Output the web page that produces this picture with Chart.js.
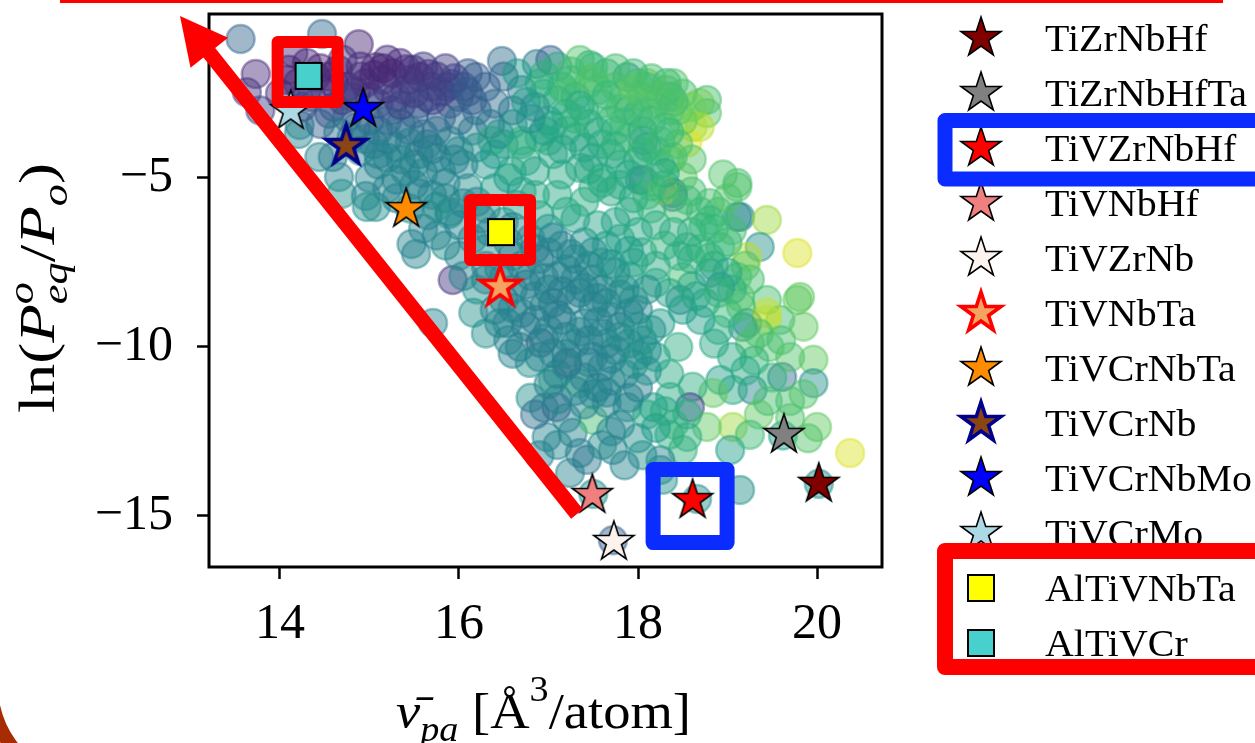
<!DOCTYPE html>
<html>
<head>
<meta charset="utf-8">
<script src="https://cdn.jsdelivr.net/npm/chart.js@4.4.1/dist/chart.umd.min.js"></script>
<style>
  html, body { margin: 0; padding: 0; background: #ffffff; overflow: hidden; }
  #wrap { width: 1255px; height: 743px; position: relative; }
</style>
</head>
<body>
<div id="wrap"><canvas id="c" width="1255" height="743"></canvas></div>
<script>
// ---------------- data ----------------
const xTicks = [14, 16, 18, 20];
const yTicks = [-5, -10, -15];

// named alloys (volume per atom, ln of equilibrium pressure)
const alloyNames = ['TiZrNbHf', 'TiZrNbHfTa', 'TiVZrNbHf', 'TiVNbHf', 'TiVZrNb', 'TiVNbTa',
                    'TiVCrNbTa', 'TiVCrNb', 'TiVCrNbMo', 'TiVCrMo', 'AlTiVNbTa', 'AlTiVCr'];
const alloyVol = [20.02, 19.63, 18.61, 17.49, 17.73, 16.46, 15.41, 14.74, 14.93, 14.12, 16.47, 14.32];
const alloyLnP = [-14.05, -12.60, -14.53, -14.38, -15.77, -8.22, -5.92, -4.05, -2.96, -3.02, -6.60, -1.98];
const alloyShape = ['star', 'star', 'star', 'star', 'star', 'star', 'star', 'star', 'star', 'star', 'square', 'square'];
const alloyFill = ['#800000', '#808080', '#ff0000', '#f08080', '#fdf3ee', '#f4a460', '#ff8c00', '#8b4513',
                   '#0000ff', '#add8e6', '#ffff00', '#48d1cc'];
const alloyEdge = ['#000', '#000', '#000', '#000', '#000', '#ff0000', '#000', '#00008b', '#000', '#000', '#000', '#000'];
const alloyEdgeWidth = [1.6, 1.6, 1.6, 1.6, 1.6, 3.6, 1.6, 3.6, 1.6, 1.6, 2, 2];

// candidate compositions: volume, ln pressure, colour value
const candVol = [
  13.56, 14.47, 13.73, 13.63, 14.08, 13.78, 14.22, 14.21, 14.44, 14.59, 14.66, 14.69, 14.96, 14.97, 15.07, 15.47, 15.52,
  14.88, 15.34, 15.07, 15.41, 15.49, 15.66, 15.92, 15.87, 15.56, 16.19, 16.48, 16.87, 17.02, 17.35, 17.46, 17.50,
  17.88, 18.10, 18.32, 18.10, 18.36, 18.32, 18.69, 18.77, 18.77, 18.69, 18.61, 18.55, 18.06, 18.39, 18.36, 18.10,
  18.02, 18.06, 18.50, 18.39, 18.39, 18.28, 19.11, 19.11, 18.80, 19.11, 19.14, 19.44, 18.73, 18.92, 19.36, 19.22,
  19.78, 19.11, 19.14, 18.80, 18.92, 18.50, 18.47, 19.44, 19.59, 19.78, 19.44, 19.22, 19.81, 19.44, 19.17, 19.47,
  19.96, 19.96, 19.61, 19.28, 19.06, 18.92, 18.84, 18.61, 18.58, 18.36, 18.17, 19.06, 18.77, 18.55, 18.50, 19.03,
  20.00, 20.37, 19.14, 18.25, 18.66, 17.72, 17.35, 17.09, 16.98, 17.27, 17.50, 17.24, 17.43, 17.88, 17.65, 17.35,
  17.05, 16.91, 17.21, 16.68, 17.05, 16.79, 16.54, 16.16, 15.71, 17.72, 17.50, 20.02, 19.62, 18.28, 15.93, 18.25,
  14.00, 14.20, 14.35, 14.55, 14.60, 14.75, 14.90, 15.00, 15.15, 15.25, 15.40, 15.55, 15.70, 15.80, 16.00, 16.10,
  16.20, 14.45, 14.85, 15.10, 15.35, 15.60, 14.30, 14.15, 14.70, 15.20, 15.60, 16.30, 16.50, 16.40, 16.70,
  14.90, 15.10, 15.30, 15.50, 15.65, 15.80, 16.00, 16.15, 16.30, 16.50, 16.60, 16.75, 16.90, 17.05, 17.20, 17.35,
  15.20, 15.70, 15.90, 16.10, 16.30, 16.70, 16.90, 17.10, 17.30, 17.50, 15.60, 15.85, 16.15, 16.80, 17.00, 17.40,
  15.00, 15.45, 16.55,
  16.90, 17.10, 17.25, 17.40, 17.55, 17.70, 17.85, 18.00, 18.20, 18.30, 18.45, 17.00, 17.30, 17.60, 17.90, 18.20,
  17.80, 17.50, 18.00, 17.65, 17.10, 18.50,
  17.70, 17.90, 18.10, 18.20, 18.45, 18.60, 17.80, 18.05, 18.30, 18.60, 17.60, 17.90, 18.20, 18.90, 19.00, 18.75,
  18.50, 18.90, 19.25,
  16.30, 16.60, 16.80, 17.00, 17.20, 17.35, 17.50, 17.65, 17.85, 18.00, 16.50, 16.70, 16.95, 17.15, 17.40, 17.60,
  17.80, 18.05, 18.25, 16.30, 16.55, 17.30, 17.50, 17.75, 17.95, 18.20, 18.45, 17.10, 17.40, 17.70, 18.00, 18.35,
  16.20, 16.05, 16.40,
  16.80, 17.20, 17.50, 17.80, 18.10, 18.35, 16.90, 17.60, 18.05, 18.40, 16.85,
  19.25, 19.60, 19.85, 19.30, 19.05, 19.70, 19.35, 19.90,
  16.60, 16.85, 16.35, 16.37, 16.70, 16.59, 15.89,
  14.10, 14.40, 14.50, 14.65, 14.80, 14.95, 15.10, 15.25, 15.30, 15.45, 15.50, 15.65, 15.75, 15.90, 16.05, 14.25,
  14.55, 14.75, 15.00, 15.20, 15.45, 15.75, 16.00, 16.15, 14.90,
  14.80, 15.05, 15.20, 15.40, 15.55, 15.75, 15.90, 16.05, 16.20, 16.40, 16.45, 16.70, 16.85, 17.00, 17.15, 15.30,
  15.50, 15.65, 15.85, 16.00, 16.20, 16.40, 16.50, 16.65, 16.85, 17.00, 17.20, 17.40, 17.55, 15.75, 16.00, 16.30,
  16.55, 17.15, 17.30,
  16.95, 17.15, 17.30, 17.45, 17.60, 17.75, 17.90, 18.05, 18.15, 18.35, 18.50, 18.60, 17.20, 17.45, 17.75, 18.05,
  18.25, 17.40, 17.70, 18.00, 18.25, 17.95, 17.25, 16.95, 18.45,
  17.60, 17.80, 17.95, 18.15, 18.30, 18.60, 18.70, 18.40, 18.85, 17.75, 18.00, 17.65, 17.95, 18.20, 18.45, 18.70,
  18.35, 18.60, 18.85, 19.05, 18.70, 19.00, 19.20, 19.00, 18.95,
  16.45, 16.70, 16.90, 17.10, 17.30, 17.45, 17.60, 17.75, 17.95, 18.10, 16.60, 16.85, 17.05, 17.25, 17.50, 17.70,
  17.90, 18.15, 16.45, 16.75, 17.00, 17.20, 17.45, 17.65, 17.90, 18.10, 16.90, 17.20, 17.60, 17.85, 18.10, 17.30,
  17.55, 17.90, 16.30,
  17.00, 17.40, 17.70, 18.00, 18.20, 17.10, 18.30, 18.55, 17.85, 16.95,
  19.35, 19.70, 19.50, 19.20, 19.85, 19.45, 19.70, 19.25,
  16.95, 17.20, 17.35, 17.50, 17.65, 17.80, 17.95, 18.15, 18.25, 18.40, 17.05, 17.30, 17.55, 17.85, 18.10, 18.35,
  17.15, 17.45, 17.75, 18.05, 18.30, 17.60, 17.90, 18.15, 18.60, 16.75, 16.80, 16.65, 17.75, 18.40,
  16.35, 16.60, 16.85, 17.05, 17.25, 17.50, 17.70, 17.90, 16.50, 16.75, 16.95, 17.15, 17.40, 17.55, 17.80, 16.60,
  16.85, 17.10, 17.35, 17.55, 17.80, 18.00, 16.60, 16.95, 17.20, 17.45, 17.70, 18.00, 17.10, 17.65,
  14.45, 14.60, 14.85, 15.05, 15.20, 15.35, 15.50, 15.70, 15.80, 15.95, 16.10, 15.15, 14.30, 14.70, 15.85,
  14.65, 14.95, 15.20, 15.45, 15.70, 15.95, 15.10, 15.35, 15.60, 15.85, 15.30, 15.55, 15.75, 16.05, 16.25,
  18.55, 18.80, 19.05, 18.55, 18.80, 19.00, 18.65, 18.90, 19.15, 18.85
];
const candLnP = [
  -0.89, -0.74, -1.92, -2.46, -2.10, -3.00, -3.43, -3.70, -4.38, -4.38, -4.97, -5.47, -5.53, -5.86, -5.86, -6.95, -7.25,
  -1.04, -1.60, -1.72, -1.78, -1.80, -1.92, -2.22, -2.31, -2.01, -2.01, -1.54, -1.63, -1.51, -1.51, -1.66, -1.72,
  -2.01, -2.19, -2.19, -2.31, -2.60, -2.40, -2.78, -2.69, -3.08, -3.49, -3.49, -3.96, -3.88, -4.38, -4.47, -4.08,
  -5.06, -5.06, -4.97, -5.44, -5.56, -5.36, -5.15, -5.27, -5.74, -6.15, -6.15, -6.24, -6.45, -7.04, -7.04, -7.34,
  -7.22, -7.93, -8.52, -7.81, -8.22, -7.93, -8.61, -8.61, -9.20, -8.61, -9.20, -9.29, -8.52, -8.99, -9.41, -10.00,
  -10.38, -11.07, -10.89, -11.27, -11.27, -10.98, -11.36, -11.18, -11.78, -11.48, -11.78, -12.37, -12.37, -12.66, -13.05, -13.05,
  -12.37, -13.14, -14.23, -13.64, -14.50, -13.05, -13.14, -11.78, -12.66, -12.54, -12.16, -13.73, -13.34, -11.78, -11.66, -11.07,
  -10.98, -9.88, -10.47, -10.00, -10.18, -10.47, -9.29, -8.99, -9.29, -15.72, -14.35, -14.05, -12.62, -13.93, -8.02, -13.35,
  -2.50, -2.20, -2.60, -2.00, -2.90, -2.30, -1.70, -2.60, -2.10, -3.00, -2.40, -2.80, -2.30, -3.20, -2.60, -1.90,
  -3.00, -3.40, -3.50, -3.60, -3.40, -3.70, -1.60, -1.30, -1.50, -1.50, -1.70, -2.30, -2.00, -2.80, -2.40,
  -4.20, -4.60, -4.10, -4.60, -4.00, -4.80, -4.20, -3.60, -4.60, -4.00, -3.40, -4.50, -3.80, -4.30, -3.60, -4.70,
  -5.30, -5.50, -6.00, -5.30, -5.90, -5.40, -6.10, -5.50, -6.20, -5.30, -6.50, -7.00, -6.80, -6.80, -7.20, -6.90,
  -5.00, -5.90, -5.00,
  -2.20, -2.70, -2.10, -3.00, -2.40, -3.30, -2.60, -3.10, -2.80, -3.50, -3.00, -3.30, -3.80, -4.00, -3.80, -4.20,
  -4.60, -4.40, -2.20, -1.90, -1.70, -2.50,
  -5.40, -6.00, -5.50, -6.40, -5.90, -6.60, -6.80, -7.20, -7.00, -7.40, -7.50, -7.90, -8.10, -6.00, -6.90, -8.70,
  -8.90, -9.50, -8.00,
  -7.60, -7.30, -7.90, -8.30, -7.70, -8.40, -8.00, -8.70, -8.30, -8.90, -8.60, -9.00, -8.80, -9.20, -9.30, -9.60,
  -9.40, -9.80, -9.30, -9.60, -9.80, -9.90, -10.30, -10.10, -10.50, -10.30, -10.00, -10.80, -10.90, -11.00, -11.20, -10.80,
  -8.30, -7.90, -8.90,
  -11.50, -12.10, -11.40, -12.30, -12.00, -12.60, -13.20, -12.90, -13.20, -12.30, -12.00,
  -9.90, -9.80, -9.40, -10.40, -10.30, -11.60, -12.00, -12.70,
  -3.00, -2.90, -3.40, -3.90, -3.90, -4.80, -6.07,
  -1.80, -2.00, -2.40, -1.80, -2.60, -2.20, -2.80, -1.90, -2.60, -2.10, -3.10, -2.60, -2.00, -2.80, -2.30, -2.90,
  -3.10, -3.20, -3.30, -3.30, -3.60, -3.60, -3.30, -2.70, -2.00,
  -3.80, -4.00, -4.40, -4.80, -4.30, -4.40, -3.90, -4.60, -4.10, -4.30, -3.70, -4.00, -4.80, -3.90, -4.90, -5.60,
  -5.20, -6.10, -5.60, -6.40, -5.70, -5.30, -6.30, -5.80, -5.50, -6.50, -6.00, -5.70, -6.40, -6.70, -7.30, -7.10,
  -6.90, -7.00, -7.40,
  -2.50, -2.30, -2.60, -2.20, -2.80, -2.30, -3.00, -2.60, -3.30, -3.00, -3.30, -2.90, -3.10, -3.40, -3.60, -3.60,
  -3.90, -4.10, -4.30, -4.50, -4.60, -1.90, -1.85, -3.60, -4.00,
  -5.00, -5.20, -5.60, -5.90, -5.20, -5.40, -6.00, -6.60, -6.50, -6.30, -6.60, -7.00, -7.50, -7.60, -7.30, -7.10,
  -8.40, -8.20, -7.60, -8.30, -9.20, -9.00, -7.60, -5.60, -4.90,
  -7.70, -7.60, -7.40, -7.90, -8.00, -7.60, -8.30, -7.80, -8.60, -8.30, -8.30, -8.50, -8.70, -8.60, -8.80, -9.10,
  -9.00, -9.50, -9.30, -9.40, -9.50, -9.70, -9.80, -9.90, -9.90, -10.10, -10.30, -10.20, -10.60, -10.80, -10.70, -11.30,
  -11.20, -11.50, -8.00,
  -11.10, -11.70, -12.50, -12.70, -12.40, -12.90, -11.90, -12.00, -13.50, -11.80,
  -9.60, -10.30, -10.90, -10.70, -11.40, -11.60, -12.10, -12.60,
  -1.95, -2.45, -2.85, -2.05, -2.55, -2.95, -2.35, -2.05, -2.55, -2.75, -3.45, -3.25, -3.65, -3.35, -3.05, -3.65,
  -4.15, -4.75, -4.05, -4.25, -4.85, -5.15, -4.90, -5.25, -4.45, -2.75, -3.25, -1.90, -1.75, -2.20,
  -6.60, -6.45, -7.10, -6.75, -7.25, -7.20, -7.55, -7.15, -7.95, -8.15, -7.95, -8.35, -8.25, -8.55, -8.45, -8.85,
  -9.20, -9.05, -9.55, -9.25, -9.70, -9.40, -10.20, -9.75, -10.55, -10.45, -10.35, -10.25, -11.55, -11.35,
  -1.75, -2.20, -2.45, -1.95, -2.35, -2.85, -2.50, -2.70, -2.45, -2.05, -2.45, -1.75, -2.40, -2.70, -1.75,
  -3.65, -3.85, -3.85, -3.95, -4.15, -4.45, -4.30, -4.45, -4.85, -5.15, -5.05, -5.45, -5.85, -5.75, -6.20,
  -5.65, -6.25, -6.55, -7.05, -7.35, -7.80, -8.50, -8.40, -8.80, -9.90
];
const candColorVal = [
  0.32, 0.33, 0.12, 0.15, 0.10, 0.20, 0.45, 0.45, 0.45, 0.40, 0.45, 0.50, 0.45, 0.50, 0.48, 0.45, 0.45,
  0.10, 0.12, 0.10, 0.15, 0.12, 0.12, 0.20, 0.18, 0.10, 0.30, 0.35, 0.40, 0.30, 0.72, 0.65, 0.68,
  0.45, 0.80, 0.65, 0.68, 0.50, 0.70, 0.85, 0.70, 0.72, 0.90, 0.88, 0.95, 0.45, 0.70, 0.72, 0.50,
  0.45, 0.38, 0.75, 0.38, 0.35, 0.90, 0.70, 0.72, 0.70, 0.50, 0.45, 0.85, 0.65, 0.68, 0.50, 0.90,
  0.95, 0.70, 0.75, 0.50, 0.45, 0.70, 0.45, 0.70, 0.68, 0.75, 0.90, 0.50, 0.75, 0.92, 0.50, 0.72,
  0.75, 0.50, 0.35, 0.45, 0.60, 0.55, 0.75, 0.62, 0.20, 0.60, 0.55, 0.85, 0.75, 0.62, 0.65, 0.55,
  0.75, 0.95, 0.50, 0.45, 0.50, 0.45, 0.40, 0.25, 0.45, 0.45, 0.70, 0.45, 0.40, 0.50, 0.45, 0.65,
  0.62, 0.20, 0.15, 0.40, 0.45, 0.50, 0.45, 0.50, 0.45, 0.30, 0.50, 0.50, 0.55, 0.50, 0.15, 0.45,
  0.15, 0.12, 0.20, 0.10, 0.22, 0.15, 0.12, 0.25, 0.18, 0.28, 0.20, 0.25, 0.22, 0.30, 0.25, 0.28,
  0.30, 0.30, 0.32, 0.30, 0.35, 0.38, 0.10, 0.12, 0.15, 0.12, 0.18, 0.30, 0.32, 0.35, 0.40,
  0.45, 0.42, 0.45, 0.48, 0.42, 0.45, 0.50, 0.45, 0.52, 0.58, 0.55, 0.60, 0.62, 0.58, 0.65, 0.60,
  0.45, 0.45, 0.42, 0.50, 0.50, 0.55, 0.58, 0.60, 0.55, 0.62, 0.45, 0.50, 0.45, 0.48, 0.45, 0.50,
  0.45, 0.48, 0.55,
  0.60, 0.62, 0.68, 0.60, 0.70, 0.65, 0.72, 0.60, 0.75, 0.68, 0.72, 0.55, 0.60, 0.62, 0.70, 0.65,
  0.60, 0.58, 0.70, 0.65, 0.62, 0.70,
  0.60, 0.62, 0.68, 0.60, 0.70, 0.65, 0.58, 0.60, 0.65, 0.62, 0.55, 0.58, 0.62, 0.70, 0.66, 0.60,
  0.55, 0.62, 0.70,
  0.45, 0.42, 0.45, 0.40, 0.45, 0.42, 0.48, 0.45, 0.50, 0.45, 0.45, 0.42, 0.45, 0.42, 0.45, 0.48,
  0.45, 0.50, 0.55, 0.50, 0.45, 0.45, 0.42, 0.45, 0.50, 0.55, 0.62, 0.45, 0.40, 0.45, 0.42, 0.60,
  0.50, 0.45, 0.45,
  0.50, 0.45, 0.50, 0.45, 0.60, 0.62, 0.45, 0.48, 0.50, 0.65, 0.35,
  0.72, 0.70, 0.75, 0.65, 0.60, 0.70, 0.75, 0.72,
  0.40, 0.45, 0.38, 0.62, 0.65, 0.60, 0.55,
  0.10, 0.12, 0.15, 0.10, 0.20, 0.12, 0.22, 0.10, 0.20, 0.15, 0.30, 0.22, 0.15, 0.25, 0.28, 0.25,
  0.28, 0.30, 0.30, 0.32, 0.35, 0.35, 0.35, 0.30, 0.15,
  0.40, 0.42, 0.45, 0.45, 0.42, 0.45, 0.42, 0.45, 0.48, 0.55, 0.50, 0.60, 0.58, 0.62, 0.60, 0.45,
  0.45, 0.45, 0.48, 0.45, 0.45, 0.55, 0.50, 0.55, 0.60, 0.52, 0.60, 0.62, 0.58, 0.45, 0.45, 0.48,
  0.45, 0.45, 0.48,
  0.62, 0.65, 0.62, 0.70, 0.68, 0.72, 0.65, 0.70, 0.66, 0.70, 0.75, 0.78, 0.60, 0.62, 0.66, 0.62,
  0.70, 0.58, 0.62, 0.60, 0.68, 0.68, 0.70, 0.55, 0.72,
  0.60, 0.62, 0.60, 0.65, 0.66, 0.70, 0.68, 0.62, 0.66, 0.58, 0.60, 0.55, 0.58, 0.60, 0.62, 0.66,
  0.58, 0.60, 0.60, 0.62, 0.55, 0.66, 0.72, 0.72, 0.72,
  0.45, 0.45, 0.42, 0.45, 0.45, 0.45, 0.45, 0.50, 0.48, 0.50, 0.45, 0.45, 0.42, 0.45, 0.45, 0.45,
  0.45, 0.50, 0.45, 0.42, 0.45, 0.45, 0.42, 0.45, 0.48, 0.50, 0.45, 0.45, 0.45, 0.48, 0.50, 0.45,
  0.42, 0.45, 0.45,
  0.45, 0.45, 0.45, 0.50, 0.55, 0.45, 0.60, 0.62, 0.45, 0.40,
  0.70, 0.72, 0.65, 0.60, 0.72, 0.70, 0.72, 0.68,
  0.65, 0.70, 0.62, 0.72, 0.66, 0.70, 0.74, 0.70, 0.72, 0.70, 0.60, 0.65, 0.62, 0.68, 0.70, 0.66,
  0.58, 0.60, 0.64, 0.66, 0.60, 0.62, 0.60, 0.66, 0.72, 0.55, 0.50, 0.55, 0.70, 0.72,
  0.45, 0.45, 0.42, 0.45, 0.45, 0.48, 0.50, 0.55, 0.45, 0.42, 0.45, 0.42, 0.45, 0.45, 0.48, 0.45,
  0.42, 0.42, 0.45, 0.45, 0.48, 0.50, 0.45, 0.45, 0.45, 0.45, 0.45, 0.50, 0.45, 0.45,
  0.10, 0.12, 0.15, 0.10, 0.15, 0.20, 0.18, 0.20, 0.20, 0.22, 0.28, 0.10, 0.15, 0.20, 0.18,
  0.40, 0.40, 0.40, 0.42, 0.42, 0.45, 0.45, 0.45, 0.45, 0.45, 0.45, 0.45, 0.48, 0.45, 0.45,
  0.68, 0.66, 0.70, 0.62, 0.65, 0.60, 0.58, 0.65, 0.70, 0.60
];

// ---------------- styling helpers ----------------
const SERIF = '"Liberation Serif", "DejaVu Serif", "Times New Roman", serif';
const viridisStops = [[68, 1, 84], [72, 40, 120], [62, 73, 137], [49, 104, 142], [38, 130, 142],
                      [31, 158, 137], [53, 183, 121], [110, 206, 88], [181, 222, 43], [253, 231, 37]];
function viridis(t) {
  t = Math.max(0, Math.min(1, t));
  const p = t * (viridisStops.length - 1);
  const i = Math.min(Math.floor(p), viridisStops.length - 2);
  const f = p - i;
  const a = viridisStops[i], b = viridisStops[i + 1];
  return a.map((v, k) => Math.round(v + (b[k] - v) * f));
}
function rgba(c, a) { return 'rgba(' + c[0] + ',' + c[1] + ',' + c[2] + ',' + a + ')'; }

// marker sprites: 5-point star or square with an outline
function markerSprite(shape, fill, edge, lw) {
  const size = shape === 'star' ? 21 : 13;
  const pad = Math.ceil(lw) + 2;
  const s = Math.ceil(size * 2 + pad * 2);
  const cv = document.createElement('canvas');
  cv.width = s; cv.height = s;
  const g = cv.getContext('2d');
  g.translate(s / 2, s / 2);
  g.beginPath();
  if (shape === 'star') {
    const R = size, r = size * 0.382;
    for (let k = 0; k < 10; k++) {
      const a = -Math.PI / 2 + k * Math.PI / 5;
      const rr = (k % 2) ? r : R;
      g.lineTo(rr * Math.cos(a), rr * Math.sin(a));
    }
    g.closePath();
  } else {
    g.rect(-size, -size, size * 2, size * 2);
  }
  g.fillStyle = fill; g.fill();
  g.lineJoin = 'miter'; g.lineWidth = lw; g.strokeStyle = edge; g.stroke();
  return cv;
}
const alloySprites = alloyNames.map((n, i) => markerSprite(alloyShape[i], alloyFill[i], alloyEdge[i], alloyEdgeWidth[i]));

// rich text: segments with italic / size scale / baseline shift; stacked scripts share x
function segFont(seg, base) {
  return (seg.it ? 'italic ' : '') + Math.round(base * (seg.s || 1)) + 'px ' + SERIF;
}
function richWidth(ctx, segs, base) {
  let w = 0, stackW = 0;
  segs.forEach(seg => {
    ctx.font = segFont(seg, base);
    const sw = ctx.measureText(seg.t).width;
    if (seg.stack) { stackW = Math.max(stackW, sw); }
    else { w += Math.max(sw, stackW); stackW = 0; }
  });
  return w + stackW;
}
function drawRich(ctx, segs, base, x, y) {
  let cx = x, stackW = 0;
  segs.forEach(seg => {
    ctx.font = segFont(seg, base);
    const sw = ctx.measureText(seg.t).width;
    ctx.fillText(seg.t, cx, y + (seg.dy || 0) * base);
    if (seg.stack) { stackW = Math.max(stackW, sw); }
    else { cx += Math.max(sw, stackW); stackW = 0; }
  });
}

const yTitleSegs = [
  { t: 'ln(' }, { t: 'P', it: true },
  { t: 'o', it: true, s: 0.7, dy: -0.42, stack: true }, { t: 'eq', it: true, s: 0.7, dy: 0.25 },
  { t: '/' }, { t: 'P', it: true }, { t: 'o', it: true, s: 0.7, dy: 0.25 }, { t: ')' }
];
const xTitleSegs = [
  { t: 'ν\u0304', it: true }, { t: 'pa', it: true, s: 0.7, dy: 0.25 },
  { t: ' [Å' }, { t: '3', s: 0.7, dy: -0.55 }, { t: '/atom]' }
];

// ---------------- overlay plugin: frame, titles, legend, highlights ----------------
function roundedBox(ctx, x0, y0, x1, y1, lw, color) {
  ctx.save();
  ctx.strokeStyle = color; ctx.lineWidth = lw; ctx.lineJoin = 'round';
  ctx.strokeRect(x0, y0, x1 - x0, y1 - y0);
  ctx.restore();
}

const overlay = {
  id: 'overlay',
  afterDatasetsDraw(chart) {
    const { ctx, chartArea: a } = chart;
    ctx.save();
    ctx.strokeStyle = '#000'; ctx.lineWidth = 3;
    ctx.strokeRect(a.left, a.top, a.right - a.left, a.bottom - a.top);
    ctx.restore();
  },
  afterDraw(chart) {
    const { ctx, chartArea: a, scales } = chart;
    ctx.save();
    ctx.fillStyle = '#000';
    ctx.textBaseline = 'alphabetic';

    // y title (rotated)
    ctx.save();
    const yw = richWidth(ctx, yTitleSegs, 50);
    ctx.translate(54, 288);
    ctx.rotate(-Math.PI / 2);
    ctx.scale(250 / yw, 1);
    drawRich(ctx, yTitleSegs, 50, -yw / 2, 0);
    ctx.restore();

    // x title
    ctx.save();
    const xw = richWidth(ctx, xTitleSegs, 50);
    ctx.translate((a.left + a.right) / 2 - 2, 728);
    ctx.scale(295 / xw, 1);
    drawRich(ctx, xTitleSegs, 50, -xw / 2, 0);
    ctx.restore();

    // legend
    const markerSets = chart.data.datasets.filter(d => d.isAlloy);
    markerSets.forEach((d, i) => {
      const cy = 38 + i * 55;
      const sp = d.pointStyle;
      ctx.drawImage(sp, 981 - sp.width / 2, cy - sp.height / 2);
      ctx.save();
      ctx.font = '38px ' + SERIF;
      ctx.translate(1045, cy + 12.5);
      ctx.scale(1.05, 1);
      ctx.fillText(d.label, 0, 0);
      ctx.restore();
    });

    // highlight boxes tied to marker positions
    const px = i => scales.x.getPixelForValue(alloyVol[i]);
    const py = i => scales.y.getPixelForValue(alloyLnP[i]);
    const iCyan = alloyNames.indexOf('AlTiVCr');
    const iYel = alloyNames.indexOf('AlTiVNbTa');
    const iRed = alloyNames.indexOf('TiVZrNbHf');
    let cx = px(iCyan) - 1, cy = py(iCyan) - 4;
    roundedBox(ctx, cx - 30, cy - 30, cx + 30, cy + 30, 12, '#ff0000');
    cx = px(iYel) - 1; cy = py(iYel) - 2;
    roundedBox(ctx, cx - 30, cy - 30, cx + 30, cy + 30, 12, '#ff0000');
    cx = px(iRed) - 2.5; cy = py(iRed) + 6;
    roundedBox(ctx, cx - 37, cy - 36.5, cx + 37, cy + 36.5, 15, '#0a2cff');

    // legend highlights
    roundedBox(ctx, 945, 120.5, 1275, 179, 15, '#0a2cff');
    roundedBox(ctx, 945, 551, 1275, 667, 16, '#ff0000');

    // top rule
    ctx.fillStyle = '#ff0000';
    ctx.fillRect(60, 0, 1163, 3);

    // arrow along the lower-left edge of the cloud
    const tail = [577, 514], tip = [180, 16];
    const dx = tip[0] - tail[0], dy = tip[1] - tail[1];
    const L = Math.hypot(dx, dy);
    const ux = dx / L, uy = dy / L, nx = -uy, ny = ux;
    const headLen = 47, headHalf = 24, shaftHalf = 7.5;
    const bx = tip[0] - ux * headLen, by = tip[1] - uy * headLen;
    ctx.beginPath();
    ctx.moveTo(tail[0] + nx * shaftHalf, tail[1] + ny * shaftHalf);
    ctx.lineTo(bx + nx * shaftHalf, by + ny * shaftHalf);
    ctx.lineTo(bx + nx * headHalf, by + ny * headHalf);
    ctx.lineTo(tip[0], tip[1]);
    ctx.lineTo(bx - nx * headHalf, by - ny * headHalf);
    ctx.lineTo(bx - nx * shaftHalf, by - ny * shaftHalf);
    ctx.lineTo(tail[0] - nx * shaftHalf, tail[1] - ny * shaftHalf);
    ctx.closePath();
    ctx.fill();

    // corner arc
    ctx.beginPath();
    ctx.strokeStyle = '#a82c02';
    ctx.lineWidth = 14;
    ctx.arc(90, 686, 99, Math.PI * 0.55, Math.PI * 1.05);
    ctx.stroke();
    ctx.restore();
  }
};

// ---------------- chart ----------------
const datasets = [{
  label: 'candidates',
  data: candVol.map((v, i) => ({ x: v, y: candLnP[i] })),
  pointRadius: 14,
  pointBorderWidth: 2.5,
  pointBackgroundColor: candColorVal.map(c => rgba(viridis(c), 0.46)),
  pointBorderColor: candColorVal.map(c => rgba(viridis(c), 0.46)),
  order: 10
}];
alloyNames.forEach((name, i) => {
  datasets.push({
    label: name,
    isAlloy: true,
    data: [{ x: alloyVol[i], y: alloyLnP[i] }],
    pointStyle: alloySprites[i],
    pointRadius: 22,
    order: 0
  });
});

new Chart(document.getElementById('c'), {
  type: 'scatter',
  data: { datasets },
  options: {
    responsive: false,
    animation: false,
    events: [],
    layout: { autoPadding: false, padding: { top: 14, right: 373, bottom: 0, left: 0 } },
    plugins: { legend: { display: false }, tooltip: { enabled: false } },
    scales: {
      x: {
        type: 'linear', min: 13.207, max: 20.726,
        afterBuildTicks: s => { s.ticks = xTicks.map(v => ({ value: v })); },
        afterFit: s => { s.height = 176; s.paddingLeft = 0; s.paddingRight = 0; },
        grid: { display: true, drawOnChartArea: false, drawTicks: true, tickLength: 12, tickWidth: 2.5, tickColor: '#000' },
        border: { display: false },
        ticks: { color: '#000', padding: 16, font: { family: SERIF, size: 50 }, maxRotation: 0,
                 callback: v => String(v) }
      },
      y: {
        type: 'linear', min: -16.51, max: -0.148,
        afterBuildTicks: s => { s.ticks = yTicks.map(v => ({ value: v })); },
        afterFit: s => { s.width = 209; s.paddingTop = 0; s.paddingBottom = 0; },
        grid: { display: true, drawOnChartArea: false, drawTicks: true, tickLength: 12, tickWidth: 2.5, tickColor: '#000' },
        border: { display: false },
        ticks: { color: '#000', padding: 24, font: { family: SERIF, size: 50 },
                 callback: v => (v < 0 ? '\u2212' : '') + Math.abs(v) }
      }
    }
  },
  plugins: [overlay]
});
</script>
</body>
</html>
